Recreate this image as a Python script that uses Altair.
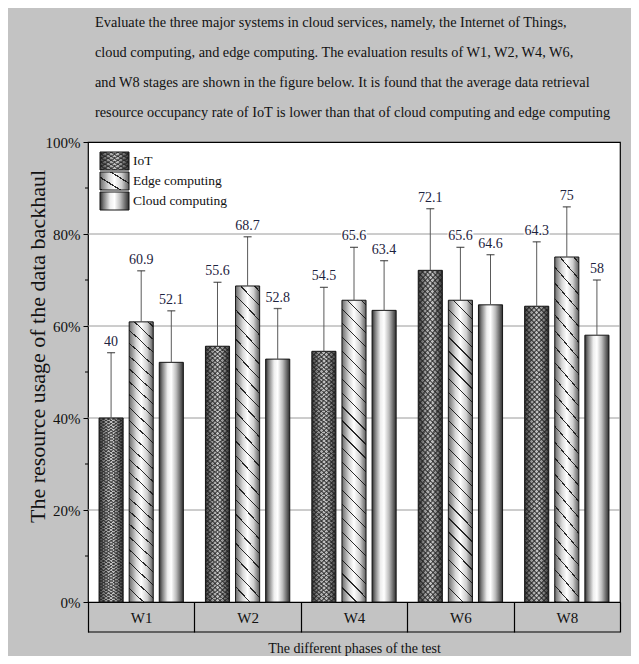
import altair as alt
import pandas as pd

# ---------------- data ----------------
phases = ["W1", "W2", "W4", "W6", "W8"]
series = ["IoT", "Edge computing", "Cloud computing"]
iot = [40, 55.6, 54.5, 72.1, 64.3]
edge = [60.9, 68.7, 65.6, 65.6, 75]
cloud = [52.1, 52.8, 63.4, 64.6, 58]
iot_err_top = [54.2, 69.5, 68.4, 85.5, 78.3]
edge_err_top = [72.0, 79.4, 77.1, 77.1, 85.9]
cloud_err_top = [63.3, 63.8, 74.2, 75.5, 70.0]
y_ticks = [0, 20, 40, 60, 80, 100]
grid_vals = [20, 40, 60, 80]
minor_vals = [10, 30, 50, 70, 90]
title_lines = [
    "Evaluate the three major systems in cloud services, namely, the Internet of Things,",
    "\u00a0cloud computing, and edge computing. The evaluation results of W1, W2, W4, W6,",
    "\u00a0and W8 stages are shown in the figure below. It is found that the average data retrieval",
    "\u00a0resource occupancy rate of IoT is lower than that of cloud computing and edge computing",
]

rows = []
for s, vals, errs in [("IoT", iot, iot_err_top), ("Edge computing", edge, edge_err_top),
                      ("Cloud computing", cloud, cloud_err_top)]:
    for p, v, e in zip(phases, vals, errs):
        rows.append({"phase": p, "series": s, "value": v, "err": e, "label": f"{v:g}"})
df = pd.DataFrame(rows)

W, H = 532, 460
FONT = "Liberation Serif"
T = "rgba(0,0,0,0)"


def stops(pairs):
    return [{"offset": o, "color": c} for o, c in pairs]


def stripes(n, color, frac):
    out = []
    for k in range(n):
        a = k / n
        b = (k + frac) / n
        out += [(a, color), (b, color), (b, T), ((k + 1) / n, T)]
    return stops(out)


def hgrad(pairs):
    return {"gradient": "linear", "x1": 0, "y1": 0, "x2": 1, "y2": 0, "stops": stops(pairs)}


def diag(n, color, frac, back=False, vec=(0.088, 1.1)):
    dx, dy = vec
    if back:
        return {"gradient": "linear", "x1": 1, "y1": 1, "x2": 1 - dx, "y2": 1 - dy,
                "stops": stripes(n, color, frac)}
    return {"gradient": "linear", "x1": 0, "y1": 1, "x2": dx, "y2": 1 - dy,
            "stops": stripes(n, color, frac)}


iot_base = hgrad([(0, "#3c3c3c"), (0.3, "#9a9a9a"), (0.55, "#c8c8c8"), (0.8, "#7a7a7a"), (1, "#333333")])
edge_base = hgrad([(0, "#6a6a6a"), (0.3, "#d8d8d8"), (0.5, "#ffffff"), (0.75, "#cfcfcf"), (1, "#5a5a5a")])
cloud_base = hgrad([(0, "#2e2e2e"), (0.12, "#7a7a7a"), (0.35, "#eeeeee"), (0.5, "#ffffff"),
                    (0.7, "#bdbdbd"), (0.9, "#5e5e5e"), (1, "#2e2e2e")])

bar_fills = {
    "IoT": [iot_base, diag(66, "rgba(25,25,25,0.55)", 0.4), diag(66, "rgba(25,25,25,0.55)", 0.4, back=True)],
    "Edge computing": [edge_base, diag(24, "rgba(20,20,20,0.9)", 0.09)],
    "Cloud computing": [cloud_base],
}
leg_fills = {
    "IoT": [iot_base, diag(9, "rgba(25,25,25,0.55)", 0.4, vec=(1, 1)),
            diag(9, "rgba(25,25,25,0.55)", 0.4, back=True, vec=(1, 1))],
    "Edge computing": [edge_base, diag(3, "rgba(20,20,20,0.9)", 0.12, vec=(1, 1))],
    "Cloud computing": [cloud_base],
}

yscale = alt.Scale(domain=[0, 100], nice=False, zero=True)
yaxis = alt.Axis(
    values=y_ticks, labelExpr="datum.value + '%'", domain=False, grid=False, tickSize=5,
    tickColor="black", labelFont=FONT, labelFontSize=15, labelColor="#111", labelPadding=3,
    title="The resource usage of the data backhaul", titleFont=FONT, titleFontSize=22,
    titleFontWeight="normal", titleColor="#111", titleX=-51, titleY=204,
    titleBaseline="middle", titleAlign="center", titleAngle=-90,
)
xenc = alt.X(
    "phase:N",
    scale=alt.Scale(domain=phases, paddingInner=0, paddingOuter=0),
    axis=alt.Axis(
        title="The different phases of the test", labelAngle=0, tickBand="extent", tickSize=30,
        tickColor="black", tickWidth=1.2, domainColor="black", domainWidth=1.2,
        labelPadding=-22, labelFont=FONT, labelFontSize=15, labelColor="#111",
        titleFont=FONT, titleFontSize=14, titleFontWeight="normal", titleColor="#111",
        titleY=46, titleBaseline="middle",
    ),
)
xoff = alt.XOffset("series:N", scale=alt.Scale(domain=series, paddingInner=0.2, paddingOuter=0.367))


def Y(field):
    return alt.Y(field, scale=yscale, axis=yaxis)


layers = []
# grid lines
layers.append(
    alt.Chart(pd.DataFrame({"value": grid_vals})).mark_rule(color="#9a9a9a", strokeWidth=1).encode(
        y=Y("value:Q"), x=alt.value(0), x2=alt.value(W))
)

base = alt.Chart(df).encode(x=xenc, xOffset=xoff)
for s in series:
    for i, f in enumerate(bar_fills[s]):
        if i == 0:
            mk = base.transform_filter(alt.datum.series == s).mark_bar(fill=f, stroke="#151515", strokeWidth=1)
        else:
            mk = base.transform_filter(alt.datum.series == s).mark_bar(fill=f, strokeWidth=0)
        layers.append(mk.encode(y=Y("value:Q")))

# error bars
layers.append(base.mark_rule(color="#5a5a5a", strokeWidth=1).encode(y=Y("value:Q"), y2="err:Q"))
layers.append(base.mark_tick(size=8, thickness=1.3, color="#222222").encode(y=Y("err:Q")))
# label background + labels
layers.append(base.mark_tick(size=26, thickness=14, color="white", yOffset=-11).encode(y=Y("err:Q")))
layers.append(base.mark_text(baseline="bottom", dy=-4, font=FONT, fontSize=14, color="#1d2340").encode(
    y=Y("err:Q"), text="label:N"))

# minor ticks
layers.append(
    alt.Chart(pd.DataFrame({"value": minor_vals})).mark_rule(color="black", strokeWidth=1).encode(
        y=Y("value:Q"), x=alt.value(-3), x2=alt.value(0))
)
# bottom line of the category box
one = pd.DataFrame({"a": [0]})
layers.append(alt.Chart(one).mark_rule(color="black", strokeWidth=1.2).encode(
    x=alt.value(0), x2=alt.value(W), y=alt.value(H + 30)))

# manual legend
for i, s in enumerate(series):
    top = 10 + i * 20
    for j, f in enumerate(leg_fills[s]):
        layers.append(alt.Chart(one).mark_rect(
            fill=f, stroke="#151515" if j == 0 else None, strokeWidth=1 if j == 0 else 0
        ).encode(x=alt.value(12), x2=alt.value(41), y=alt.value(top), y2=alt.value(top + 18)))
    layers.append(alt.Chart(pd.DataFrame({"t": [s]})).mark_text(
        align="left", baseline="middle", font=FONT, fontSize=13.5, color="#111"
    ).encode(x=alt.value(45), y=alt.value(top + 9), text="t:N"))

# title lines (text above the plot)
for i, line in enumerate(title_lines):
    layers.append(alt.Chart(pd.DataFrame({"t": [line]})).mark_text(
        align="left", baseline="middle", font=FONT, fontSize=14.3, color="#111"
    ).encode(x=alt.value(7), y=alt.value(-119 + i * 30), text="t:N"))

chart = alt.layer(*layers).properties(
    width=W, height=H,
    autosize=alt.AutoSizeParams(type="none"),
    padding={"left": 80, "top": 134, "right": 11, "bottom": 54},
    background="#c3c3c3",
).configure_view(stroke="black", strokeWidth=1.2, fill="white")

chart.save("out.html", embed_options={"renderer": "svg", "actions": False})
